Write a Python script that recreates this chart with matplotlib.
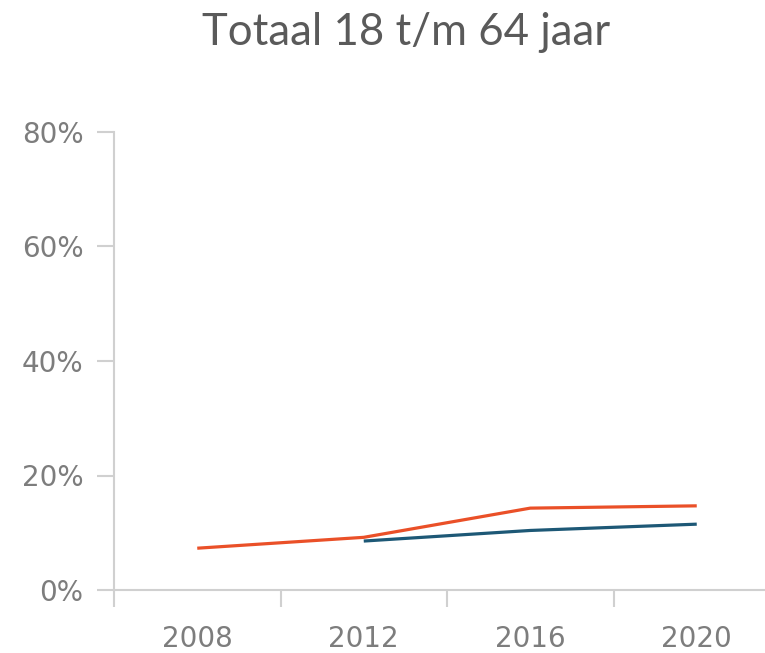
import matplotlib
matplotlib.use('Agg')
import matplotlib.pyplot as plt
import numpy as np

# data
years = ['2008', '2012', '2016', '2020']
orange_vals = [7.3, 9.2, 14.3, 14.7]
blue_years = ['2012', '2016', '2020']
blue_vals = [8.55, 10.4, 11.5]
y_ticks = [0, 20, 40, 60, 80]

plt.rcParams['font.family'] = ['DejaVu Sans']

fig = plt.figure(figsize=(7.65, 6.53), dpi=100)
fig.set_facecolor('white')
ax = fig.add_axes([114 / 765, 63 / 653, 666 / 765, 458 / 653])

x_pos = np.arange(len(years))
blue_pos = [years.index(y) for y in blue_years]

ax.plot(blue_pos, blue_vals, color='#1d5876', lw=2.3, solid_capstyle='butt')
ax.plot(x_pos, orange_vals, color='#ea5028', lw=2.3, solid_capstyle='butt')

ax.set_xlim(-0.5, len(years) - 0.5)
ax.set_ylim(0, 80)

# category axis: labels in the middle, ticks on the borders
ax.set_xticks(x_pos)
ax.set_xticklabels(years)
ax.set_xticks(np.arange(-0.5, len(years), 1), minor=True)
ax.tick_params('x', which='major', length=0, pad=25, labelsize=20, labelcolor='#7d7d7d')
ax.tick_params('x', which='minor', length=12, width=1.5, color='#d0d0d0')

ax.set_yticks(y_ticks)
ax.set_yticklabels([f'{v}%' for v in y_ticks])
ax.tick_params('y', length=12, width=1.5, color='#d0d0d0', pad=10,
               labelsize=20, labelcolor='#7d7d7d')

for s in ['top', 'right']:
    ax.spines[s].set_visible(False)
for s in ['left', 'bottom']:
    ax.spines[s].set_color('#d0d0d0')
    ax.spines[s].set_linewidth(1.5)

fig.text(406 / 765, (653 - 45) / 653, 'Totaal 18 t/m 64 jaar', ha='center',
         va='baseline', fontsize=31.5, color='#5a5a5a', family='Lato')

fig.savefig('out.png', dpi=100, facecolor='white')
